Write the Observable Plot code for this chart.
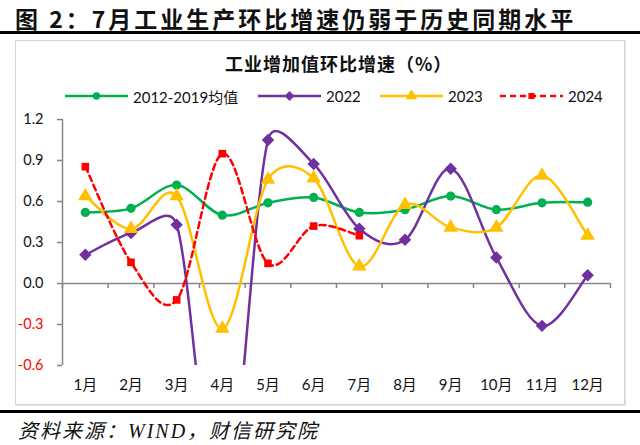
<!DOCTYPE html>
<html>
<head>
<meta charset="utf-8">
<script src="https://cdn.jsdelivr.net/npm/d3@7"></script>
<script src="https://cdn.jsdelivr.net/npm/@observablehq/plot@0.6"></script>
<style>
  body { margin:0; width:640px; height:445px; position:relative; background:#fff; overflow:hidden; font-family: Lato, "Noto Sans CJK SC", sans-serif; }
  .abs { position:absolute; }
  #title { left:15px; top:1px; font: bold 23px "Noto Sans CJK SC", sans-serif; letter-spacing:3px; color:#111; white-space:nowrap; }
  #rule1 { left:0; width:640px; top:31px; height:2.5px; background:#000; }
  #box { left:15px; top:40px; width:608px; height:363px; border:1px solid #d4d4d4; box-shadow: 1px 1px 1px #e6e6e6; }
  #ctitle { left:225px; top:50px; font: bold 18px "Noto Sans CJK SC", sans-serif; letter-spacing:1px; color:#111; white-space:nowrap; }
  .leg { position:absolute; top:86px; height:20px; display:flex; align-items:center; font-size:15px; color:#111; white-space:nowrap; }
  .leg svg { margin-right:5px; }
  #chart { left:0; top:105px; }
  #rule2 { left:0; width:640px; top:410px; height:2.5px; background:#000; }
  #foot { left:18px; top:415px; font: italic 20px "Liberation Serif", "Noto Sans CJK SC", serif; letter-spacing:2px; color:#111; white-space:nowrap; }
</style>
</head>
<body>
<div id="title" class="abs">图 2：7月工业生产环比增速仍弱于历史同期水平</div>
<div id="rule1" class="abs"></div>
<div id="box" class="abs"></div>
<div id="ctitle" class="abs">工业增加值环比增速（%）</div>
<div id="legend"></div>
<div id="chart" class="abs"></div>
<div id="rule2" class="abs"></div>
<div id="foot" class="abs">资料来源：WIND，财信研究院</div>
<script>
// ---- data ----
const months = ["1月","2月","3月","4月","5月","6月","7月","8月","9月","10月","11月","12月"];
const seriesNames = ["2012-2019均值","2022","2023","2024"];
const avg2012_2019 = [0.52, 0.55, 0.72, 0.50, 0.59, 0.63, 0.52, 0.54, 0.64, 0.54, 0.59, 0.595];
const v2022 = [0.21, 0.37, 0.43, -1.8, 1.05, 0.875, 0.40, 0.32, 0.84, 0.19, -0.31, 0.06];
const v2023 = [0.64, 0.40, 0.64, -0.33, 0.76, 0.77, 0.125, 0.575, 0.41, 0.41, 0.79, 0.35];
const v2024 = [0.855, 0.155, -0.12, 0.95, 0.147, 0.42, 0.35];
const yTicks = [-0.6, -0.3, 0, 0.3, 0.6, 0.9, 1.2];

const colors = ["#00B050", "#7030A0", "#FFC000", "#FF0000"];
const symbols = ["circle", "diamond2", "triangle", "square"];
const radii = [4.6, 5.6, 5.4, 4.3];
const dashes = [null, null, null, "6,4"];
const allValues = [avg2012_2019, v2022, v2023, v2024];

const idx = months.map((m, i) => i + 1);
const bounds = [0.5, ...idx.map(i => i + 0.5)];

// Spreadsheet-style smoothed line (Bezier segments, capped control handles)
function smoothCurve(context) {
  let pts;
  return {
    areaStart() {}, areaEnd() {},
    lineStart() { pts = []; },
    point(x, y) { pts.push([+x, +y]); },
    lineEnd() {
      const n = pts.length;
      if (!n) return;
      context.moveTo(pts[0][0], pts[0][1]);
      for (let i = 0; i < n - 1; i++) {
        const p0 = pts[Math.max(0, i - 1)], p1 = pts[i], p2 = pts[i + 1], p3 = pts[Math.min(n - 1, i + 2)];
        const d12 = Math.hypot(p2[0] - p1[0], p2[1] - p1[1]);
        const d02 = Math.hypot(p2[0] - p0[0], p2[1] - p0[1]);
        const d13 = Math.hypot(p3[0] - p1[0], p3[1] - p1[1]);
        const f0 = d02 > 0 ? Math.min(1 / 6, d12 / (2 * d02)) : 0;
        const f3 = d13 > 0 ? Math.min(1 / 6, d12 / (2 * d13)) : 0;
        context.bezierCurveTo(
          p1[0] + (p2[0] - p0[0]) * f0, p1[1] + (p2[1] - p0[1]) * f0,
          p2[0] - (p3[0] - p1[0]) * f3, p2[1] - (p3[1] - p1[1]) * f3,
          p2[0], p2[1]);
      }
    }
  };
}

// ---- legend ----
const legLeft = [65, 258, 380, 500];
const legend = document.getElementById("legend");
const symGen = {circle: d3.symbolCircle, diamond2: d3.symbolDiamond2, triangle: d3.symbolTriangle, square: d3.symbolSquare};
seriesNames.forEach((name, k) => {
  const div = document.createElement("div");
  div.className = "leg";
  div.style.left = legLeft[k] + "px";
  const r = radii[k] * 0.8;
  const path = d3.symbol(symGen[symbols[k]], Math.PI * r * r)();
  div.innerHTML = `<svg width="63" height="14"><line x1="0" x2="63" y1="7" y2="7" stroke="${colors[k]}" stroke-width="2.5" ${dashes[k] ? `stroke-dasharray="${dashes[k]}"` : ""}/><path transform="translate(31.5,7)" d="${path}" fill="${colors[k]}"/></svg><span>${name}</span>`;
  legend.appendChild(div);
});

// ---- chart ----
const seriesMarks = allValues.flatMap((vals, k) => {
  const data = vals.map((v, i) => ({m: i + 1, v}));
  return [
    Plot.line(data, {x: "m", y: "v", curve: smoothCurve, stroke: colors[k], strokeWidth: 2.5, strokeDasharray: dashes[k] ?? undefined, clip: true}),
    Plot.dot(data, {x: "m", y: "v", symbol: () => symbols[k], r: radii[k], fill: colors[k], stroke: "none", clip: true})
  ];
});

const chart = Plot.plot({
  width: 640,
  height: 300,
  marginTop: 14,
  marginBottom: 40,
  marginLeft: 62,
  marginRight: 30,
  x: {domain: [0.5, 12.5], axis: null, label: null},
  y: {domain: [-0.6, 1.2], axis: null, label: null},
  symbol: {type: "identity"},
  style: {fontFamily: 'Lato, "Noto Sans CJK SC", sans-serif', fontSize: "14px", color: "#111", background: "transparent", overflow: "visible"},
  marks: [
    Plot.ruleY([0], {stroke: "#868686", strokeWidth: 1.5}),
    Plot.ruleX(bounds, {y1: 0, y2: 0, insetBottom: -5, stroke: "#868686", strokeWidth: 1.5}),
    Plot.ruleX([0.5], {y1: -0.6, y2: 1.2, stroke: "#868686", strokeWidth: 1.5}),
    Plot.axisY(yTicks, {tickSize: 5, tickFormat: () => "", stroke: "#868686", strokeWidth: 1.5, label: null}),
    Plot.text(yTicks, {y: d => d, text: d => d.toFixed(1), frameAnchor: "left", textAnchor: "end", dx: -19, fill: d => d < 0 ? "#FF0000" : "#111", fontSize: 14.5}),
    Plot.axisX(idx, {tickSize: 0, tickPadding: 14, tickFormat: i => months[i - 1], fontSize: 15, fill: "#111", label: null}),
    ...seriesMarks
  ]
});
document.getElementById("chart").appendChild(chart);
</script>
</body>
</html>
